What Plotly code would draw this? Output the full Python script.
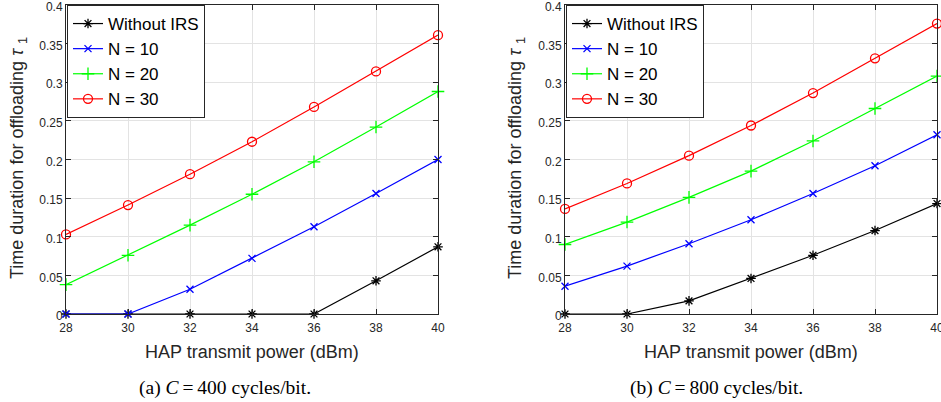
import plotly.graph_objects as go

power_dbm = [28, 30, 32, 34, 36, 38, 40]

# (a) C = 400 cycles/bit
a_without_irs = [0, 0, 0, 0, 0, 0.043, 0.087]
a_n10 = [0, 0, 0.032, 0.072, 0.113, 0.156, 0.200]
a_n20 = [0.038, 0.076, 0.115, 0.155, 0.197, 0.242, 0.288]
a_n30 = [0.103, 0.141, 0.181, 0.223, 0.268, 0.314, 0.361]

# (b) C = 800 cycles/bit
b_without_irs = [0, 0, 0.017, 0.046, 0.076, 0.108, 0.143]
b_n10 = [0.036, 0.062, 0.091, 0.122, 0.156, 0.192, 0.232]
b_n20 = [0.090, 0.119, 0.151, 0.185, 0.224, 0.266, 0.308]
b_n30 = [0.136, 0.169, 0.205, 0.244, 0.286, 0.331, 0.376]

series_names = ["Without IRS", "N = 10", "N = 20", "N = 30"]
y_ticks = [0, 0.05, 0.1, 0.15, 0.2, 0.25, 0.3, 0.35, 0.4]
y_tick_text = ["0", "0.05", "0.1", "0.15", "0.2", "0.25", "0.3", "0.35", "0.4"]
x_ticks = [28, 30, 32, 34, 36, 38, 40]
x_title = "HAP transmit power (dBm)"
y_title = "Time duration for offloading <i>τ</i> <sub>1</sub>"
captions = ["(a) <i>C</i>\u2009=\u2009400 cycles/bit.", "(b) <i>C</i>\u2009=\u2009800 cycles/bit."]

colors = ["#000000", "#0000ff", "#00ff00", "#ff0000"]
symbols = ["asterisk-open", "x-thin-open", "cross-thin-open", "circle-open"]
sizes = [8, 7, 9, 9]

W, H = 941, 402
def px(x):
    return x / W
def py(y):
    return 1 - y / H

fig = go.Figure()

panels = [
    ([a_without_irs, a_n10, a_n20, a_n30], "x", "y", "legend"),
    ([b_without_irs, b_n10, b_n20, b_n30], "x2", "y2", "legend2"),
]
for data, xa, ya, lg in panels:
    for i, vals in enumerate(data):
        fig.add_trace(go.Scatter(
            x=power_dbm, y=vals, mode="lines+markers", name=series_names[i],
            xaxis=xa, yaxis=ya, legend=lg, cliponaxis=False,
            line=dict(color=colors[i], width=1.2),
            marker=dict(symbol=symbols[i], size=sizes[i], color=colors[i],
                        line=dict(color=colors[i], width=1.3)),
        ))

font_sans = "Liberation Sans, Arial, sans-serif"
axis_common = dict(
    automargin=False, ticklabeloverflow="allow",
    showgrid=True, gridcolor="#e3e3e3", gridwidth=1, zeroline=False,
    showline=True, linecolor="#262626", linewidth=1, mirror="ticks",
    ticks="inside", ticklen=5, tickcolor="#262626",
    tickfont=dict(family=font_sans, size=12, color="#262626"),
)
ydom = [py(314), py(5)]
leg_common = dict(xanchor="left", yanchor="top", bgcolor="white",
                  bordercolor="#262626", borderwidth=1,
                  font=dict(family=font_sans, size=17, color="#000000"), tracegroupgap=0)
fig.update_layout(
    template="none",
    width=W, height=H, margin=dict(l=0, r=0, t=0, b=0),
    paper_bgcolor="white", plot_bgcolor="white",
    xaxis=dict(domain=[px(66), px(438)], range=[28, 40], tickvals=x_ticks, anchor="y",
               ticklabelstandoff=3, **axis_common),
    yaxis=dict(domain=ydom, range=[0, 0.4], tickvals=y_ticks, ticktext=y_tick_text, anchor="x",
               ticklabelshift=2, **axis_common),
    xaxis2=dict(domain=[px(565), px(937)], range=[28, 40], tickvals=x_ticks, anchor="y2",
                ticklabelstandoff=3, **axis_common),
    yaxis2=dict(domain=ydom, range=[0, 0.4], tickvals=y_ticks, ticktext=y_tick_text, anchor="x2",
                ticklabelshift=2, **axis_common),
    legend=dict(x=px(67), y=py(5), **leg_common),
    legend2=dict(x=px(566), y=py(5), **leg_common),
    showlegend=True,
)

ann_font = dict(family=font_sans, size=18, color="#262626")
for cx in [252, 751]:
    fig.add_annotation(x=px(cx), y=py(352), xref="paper", yref="paper", text=x_title,
                       showarrow=False, xanchor="center", yanchor="middle", font=ann_font)
for cx in [18, 516]:
    fig.add_annotation(x=px(cx), y=py(158), xref="paper", yref="paper", text=y_title,
                       showarrow=False, xanchor="center", yanchor="middle", textangle=-90, font=ann_font)
for cx, txt in zip([225, 716], captions):
    fig.add_annotation(x=px(cx), y=py(388), xref="paper", yref="paper", text=txt,
                       showarrow=False, xanchor="center", yanchor="middle",
                       font=dict(family="Liberation Serif, Times New Roman, serif", size=19.5, color="#000000"))

fig.write_html("out.html", config={"displayModeBar": False},
               post_script="document.body.style.margin='0px';document.body.style.overflow='hidden';")
